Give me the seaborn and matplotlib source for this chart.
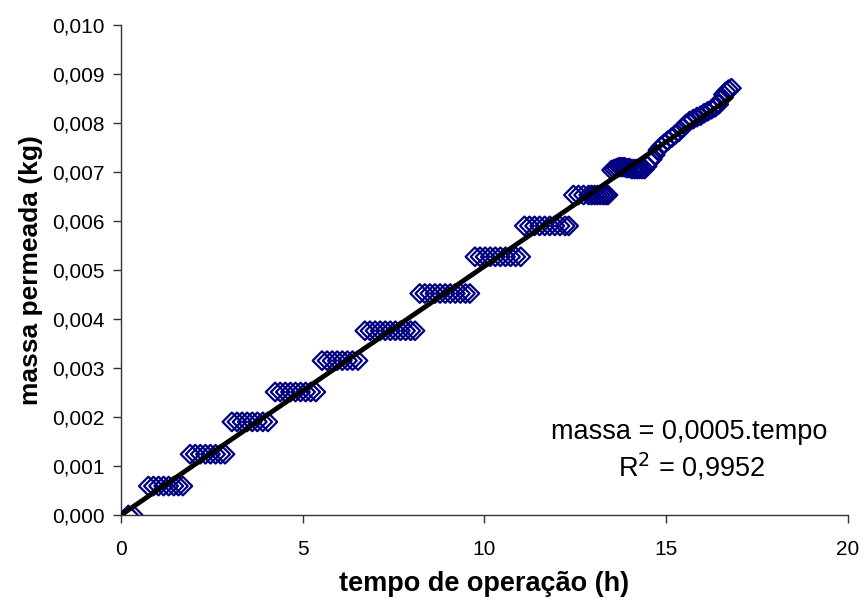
import numpy as np
import pandas as pd
import seaborn as sns
import matplotlib
matplotlib.use("Agg")
import matplotlib.pyplot as plt
from matplotlib.ticker import FixedLocator, FixedFormatter

# Operating time (h) and accumulated permeate mass (kg)
tempo = [
    0.20, 0.33,
    0.75, 0.89, 1.03, 1.17, 1.31, 1.45, 1.58, 1.70,
    1.90, 2.04, 2.18, 2.32, 2.46, 2.60, 2.74, 2.86,
    3.05, 3.19, 3.33, 3.47, 3.61, 3.75, 3.90, 4.04,
    4.24, 4.38, 4.52, 4.66, 4.80, 4.94, 5.08, 5.22, 5.36,
    5.53, 5.67, 5.81, 5.95, 6.09, 6.23, 6.37, 6.52,
    6.71, 6.85, 6.99, 7.13, 7.27, 7.41, 7.55, 7.69, 7.83, 7.97, 8.09,
    8.22, 8.36, 8.50, 8.64, 8.78, 8.92, 9.06, 9.20, 9.34, 9.48, 9.60,
    9.74, 9.88, 10.02, 10.16, 10.30, 10.44, 10.58, 10.72, 10.86, 11.00,
    11.10, 11.24, 11.38, 11.52, 11.66, 11.80, 11.94, 12.08, 12.22, 12.32,
    12.45, 12.59, 12.73, 12.87, 12.95, 13.03, 13.11, 13.19, 13.27, 13.34, 13.40,
    13.50, 13.57, 13.64, 13.71, 13.78, 13.85, 13.92, 13.99, 14.06, 14.13,
    14.20, 14.27, 14.34, 14.41, 14.48,
    14.55, 14.62, 14.70, 14.78, 14.86, 14.95, 15.05, 15.15, 15.25, 15.35,
    15.45, 15.55, 15.65, 15.75, 15.85, 15.95, 16.05, 16.15, 16.25, 16.35,
    16.45, 16.52, 16.58, 16.65, 16.72, 16.80,
]
massa = [
    0.00000, 0.00000,
    0.00059, 0.00059, 0.00059, 0.00059, 0.00059, 0.00059, 0.00059, 0.00059,
    0.00124, 0.00124, 0.00124, 0.00124, 0.00124, 0.00124, 0.00124, 0.00124,
    0.00190, 0.00190, 0.00190, 0.00190, 0.00190, 0.00190, 0.00190, 0.00190,
    0.00251, 0.00251, 0.00251, 0.00251, 0.00251, 0.00251, 0.00251, 0.00251, 0.00251,
    0.00315, 0.00315, 0.00315, 0.00315, 0.00315, 0.00315, 0.00315, 0.00315,
    0.00376, 0.00376, 0.00376, 0.00376, 0.00376, 0.00376, 0.00376, 0.00376, 0.00376, 0.00376, 0.00376,
    0.00452, 0.00452, 0.00452, 0.00452, 0.00452, 0.00452, 0.00452, 0.00452, 0.00452, 0.00452, 0.00452,
    0.00527, 0.00527, 0.00527, 0.00527, 0.00527, 0.00527, 0.00527, 0.00527, 0.00527, 0.00527,
    0.00590, 0.00590, 0.00590, 0.00590, 0.00590, 0.00590, 0.00590, 0.00590, 0.00590, 0.00590,
    0.00653, 0.00653, 0.00653, 0.00653, 0.00653, 0.00653, 0.00653, 0.00653, 0.00653, 0.00653, 0.00653,
    0.00704, 0.00706, 0.00708, 0.00710, 0.00710, 0.00710, 0.00708, 0.00708, 0.00706, 0.00706,
    0.00706, 0.00706, 0.00706, 0.00706, 0.00712,
    0.00722, 0.00726, 0.00735, 0.00745, 0.00752, 0.00758, 0.00764, 0.00770, 0.00776, 0.00782,
    0.00790, 0.00798, 0.00804, 0.00808, 0.00812, 0.00815, 0.00820, 0.00824, 0.00828, 0.00832,
    0.00838, 0.00848, 0.00858, 0.00864, 0.00868, 0.00871,
]

x_ticks = [0, 5, 10, 15, 20]
x_tick_labels = ["0", "5", "10", "15", "20"]
y_ticks = [0.000, 0.001, 0.002, 0.003, 0.004, 0.005, 0.006, 0.007, 0.008, 0.009, 0.010]
y_tick_labels = ["0,000", "0,001", "0,002", "0,003", "0,004", "0,005",
                 "0,006", "0,007", "0,008", "0,009", "0,010"]
r_quadrado = 0.9952

df = pd.DataFrame({"tempo": tempo, "massa": massa})

# Linear trend forced through the origin
t = df["tempo"].to_numpy()
m = df["massa"].to_numpy()
inclinacao = float(np.sum(t * m) / np.sum(t * t))
tend = pd.DataFrame({"tempo": [0.0, t.max()]})
tend["massa"] = inclinacao * tend["tempo"]

sns.set_theme(style="ticks")
plt.rcParams["font.family"] = ["Liberation Sans", "DejaVu Sans"]
plt.rcParams["text.color"] = "black"
plt.rcParams["axes.labelcolor"] = "black"

fig = plt.figure(figsize=(8.65, 6.03), dpi=100)
ax = fig.add_axes([0.140, 0.146, 0.840, 0.8125])

navy = "#000080"
sns.scatterplot(data=df, x="tempo", y="massa", marker="D", s=90,
                color=navy, edgecolor=navy, linewidth=1.6, ax=ax, zorder=2)
for coll in ax.collections:
    coll.set_facecolor("none")
    coll.set_edgecolor(navy)

sns.lineplot(data=tend, x="tempo", y="massa", color="black", linewidth=3.5,
             ax=ax, zorder=3)

ax.set_xlim(0, 20)
ax.set_ylim(0, 0.010)
ax.xaxis.set_major_locator(FixedLocator(x_ticks))
ax.xaxis.set_major_formatter(FixedFormatter(x_tick_labels))
ax.yaxis.set_major_locator(FixedLocator(y_ticks))
ax.yaxis.set_major_formatter(FixedFormatter(y_tick_labels))

ax.tick_params(axis="both", direction="out", length=6, width=1, color="#333333",
               labelsize=15, labelcolor="black", pad=6)
ax.tick_params(axis="x", pad=12)

for side in ["top", "right"]:
    ax.spines[side].set_visible(False)
for side in ["left", "bottom"]:
    ax.spines[side].set_color("#333333")
    ax.spines[side].set_linewidth(1.0)

ax.set_xlabel("tempo de operação (h)", fontsize=19.5, fontweight="bold",
              labelpad=9, color="black")
ax.set_ylabel("massa permeada (kg)", fontsize=19, fontweight="bold",
              labelpad=6, color="black")

coef = f"{inclinacao:.4f}".replace(".", ",")
r2 = f"{r_quadrado:.4f}".replace(".", ",")
ax.text(15.65, 0.00169, f"massa = {coef}.tempo", ha="center", va="center",
        fontsize=19.5, color="black")
ax.text(15.7, 0.00098, f"R$^2$ = {r2}", ha="center", va="center",
        fontsize=19.5, color="black")

fig.savefig("out.png", dpi=100, facecolor="white")
